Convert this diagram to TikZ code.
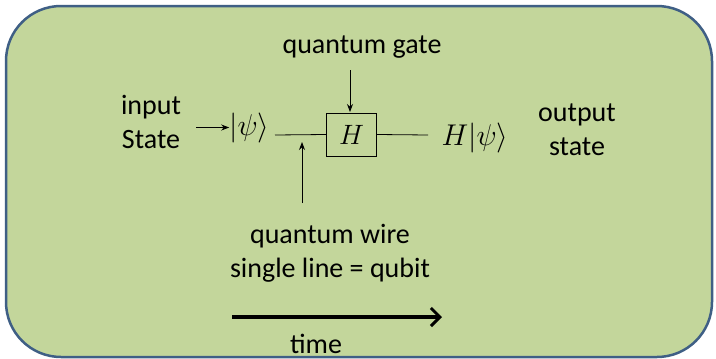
\RequirePackage{fix-cm}
\documentclass[tikz,border=0pt]{standalone}
\usepackage{fontspec}
\setmainfont{Carlito}
\usetikzlibrary{arrows.meta}
\definecolor{panelfill}{HTML}{C3D69B}
\definecolor{panelline}{HTML}{3F5F85}
\begin{document}
\begin{tikzpicture}[x=1pt,y=-1pt,
  lbl/.style={font=\fontsize{28}{34}\selectfont, align=center, inner sep=0pt, anchor=base},
  ket/.style={font=\fontsize{30}{34}\selectfont, inner sep=0pt},
  thinarrow/.style={line width=0.9pt, -{Stealth[length=8pt,width=6pt]}},
  wire/.style={line width=0.8pt}]
\useasboundingbox (0,0) rectangle (716,359);
\fill[white] (0,0) rectangle (716,359);
\draw[panelline, fill=panelfill, line width=2.5pt, rounded corners=55pt] (6,6) rectangle (712,357);
% texts
\node[lbl] (qgate) at (362,53) {quantum gate};
\node[lbl] (inlbl) at (151,148) {input\\State};
\node[lbl] (outlbl) at (577,155) {output\\state};
\node[lbl] (wirelbl) at (330,277) {quantum wire\\single line = qubit};
\node[lbl] (timelbl) at (316,353) {time};
% circuit
\node[draw, line width=0.8pt, minimum width=50pt, minimum height=43pt, inner sep=0pt, font=\fontsize{28}{32}\selectfont] (H) at (351.5,134.5) {$H$};
\node[ket] (ketin) at (249.5,127.5) {$|\psi\rangle$};
\node[ket] (ketout) at (475,138) {$H|\psi\rangle$};
\coordinate (w1) at (275,135);
\coordinate (w2) at (428,135);
\coordinate (inarr) at (196,127.5);
\coordinate (gtop) at (350,70);
\coordinate (gbot) at (350,112);
\coordinate (wbot) at (302,203);
\coordinate (wtop) at (302,142);
\coordinate (t1) at (232,317);
\coordinate (t2) at (442,317);
\draw[wire] (w1) -- (H.west);
\draw[wire] (H.east) -- (w2);
\draw[thinarrow] (inarr) -- (ketin.west);
\draw[thinarrow] (gtop) -- (gbot);
\draw[thinarrow] (wbot) -- (wtop);
\draw[line width=3.2pt, -{Straight Barb[length=9pt,width=18pt,line width=3pt]}] (t1) -- (t2);
\end{tikzpicture}
\end{document}
